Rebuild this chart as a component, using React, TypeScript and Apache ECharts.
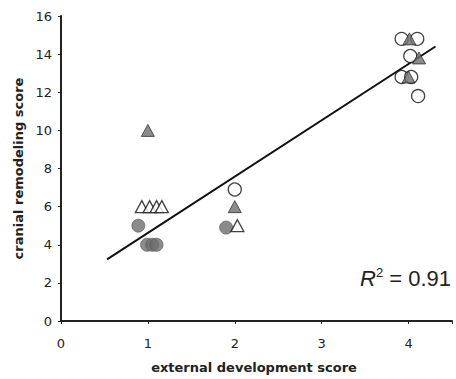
import React, { useEffect, useRef } from "react";
import * as echarts from "echarts";

const xTicks = [0, 1, 2, 3, 4];
const yTicks = [0, 2, 4, 6, 8, 10, 12, 14, 16];
const openCircles = [[2.0, 6.9], [3.92, 14.8], [4.1, 14.8], [4.02, 13.9], [3.92, 12.8], [4.03, 12.8], [4.11, 11.8]];
const grayCircles = [[0.89, 5.0], [0.99, 4.0], [1.05, 4.0], [1.1, 4.0], [1.9, 4.9]];
const grayTriangles = [[1.0, 10.0], [2.0, 6.0], [4.01, 14.8], [4.12, 13.8], [4.0, 12.8]];
const openTriangles = [[0.93, 6.0], [1.02, 6.0], [1.1, 6.0], [1.16, 6.0], [2.03, 5.0]];
const fitLine = [[0.53, 3.23], [4.31, 14.4]];
const rSquared = "0.91";

export default function App() {
  const ref = useRef<HTMLDivElement>(null);
  useEffect(() => {
    const chart = echarts.init(ref.current!, null, { renderer: "svg" });
    const font = "DejaVu Sans";
    chart.setOption({
      animation: false,
      backgroundColor: "#fff",
      grid: { left: 61, right: 4, top: 16, bottom: 56, containLabel: false },
      xAxis: {
        type: "value",
        min: 0,
        max: 4.5,
        interval: 1,
        name: "external development score",
        nameLocation: "middle",
        nameGap: 40,
        nameTextStyle: { fontFamily: font, fontSize: 13, fontWeight: "bold", color: "#222", padding: [0, 5, 0, 0] },
        axisLine: { lineStyle: { color: "#222", width: 2 } },
        axisTick: { show: true, length: 3, lineStyle: { color: "#222" } },
        axisLabel: {
          fontFamily: font, fontSize: 13, color: "#222", margin: 16,
          formatter: (v: number) => (xTicks.includes(v) ? String(v) : ""),
        },
        splitLine: { show: false },
      },
      yAxis: {
        type: "value",
        min: 0,
        max: 16,
        interval: 2,
        name: "cranial remodeling score",
        nameLocation: "middle",
        nameGap: 32,
        nameTextStyle: { fontFamily: font, fontSize: 13, fontWeight: "bold", color: "#222" },
        axisLine: { lineStyle: { color: "#222", width: 2 } },
        axisTick: { show: true, length: 3, lineStyle: { color: "#222" } },
        axisLabel: {
          fontFamily: font, fontSize: 13, color: "#222", margin: 9,
          formatter: (v: number) => (yTicks.includes(v) ? String(v) : ""),
        },
        splitLine: { show: false },
      },
      series: [
        {
          type: "line", data: fitLine, symbol: "none",
          lineStyle: { color: "#111", width: 2 }, z: 3,
        },
        {
          type: "scatter", data: openCircles, symbol: "circle", symbolSize: 13,
          itemStyle: { color: "#fff", borderColor: "#111", borderWidth: 1.3 }, z: 4,
        },
        {
          type: "scatter", data: grayCircles, symbol: "circle", symbolSize: 13,
          itemStyle: { color: "#6e6e6e", borderColor: "#555", borderWidth: 0.8 }, z: 4,
        },
        {
          type: "scatter", data: openTriangles, symbol: "triangle", symbolSize: [13, 12],
          itemStyle: { color: "#fff", borderColor: "#111", borderWidth: 1.3 }, z: 4,
        },
        {
          type: "scatter", data: grayTriangles, symbol: "triangle", symbolSize: [13, 12],
          itemStyle: { color: "#6e6e6e", borderColor: "#222", borderWidth: 0.9 }, z: 5,
        },
      ],
      graphic: [
        {
          type: "text", left: 360, top: 266,
          style: {
            text: "{r|R}{s|2}{t| = " + rSquared + "}",
            rich: {
              r: { fontFamily: "Liberation Sans", fontStyle: "italic", fontSize: 22, fill: "#222" },
              s: { fontFamily: "Liberation Sans", fontSize: 13, fill: "#222", verticalAlign: "top", padding: [0, 0, 11, 0] },
              t: { fontFamily: "Liberation Sans", fontSize: 22, fill: "#222" },
            },
          },
        },
      ],
    });
    return () => chart.dispose();
  }, []);
  return <div ref={ref} style={{ width: 456, height: 379, position: "absolute", left: 0, top: 0 }} />;
}
